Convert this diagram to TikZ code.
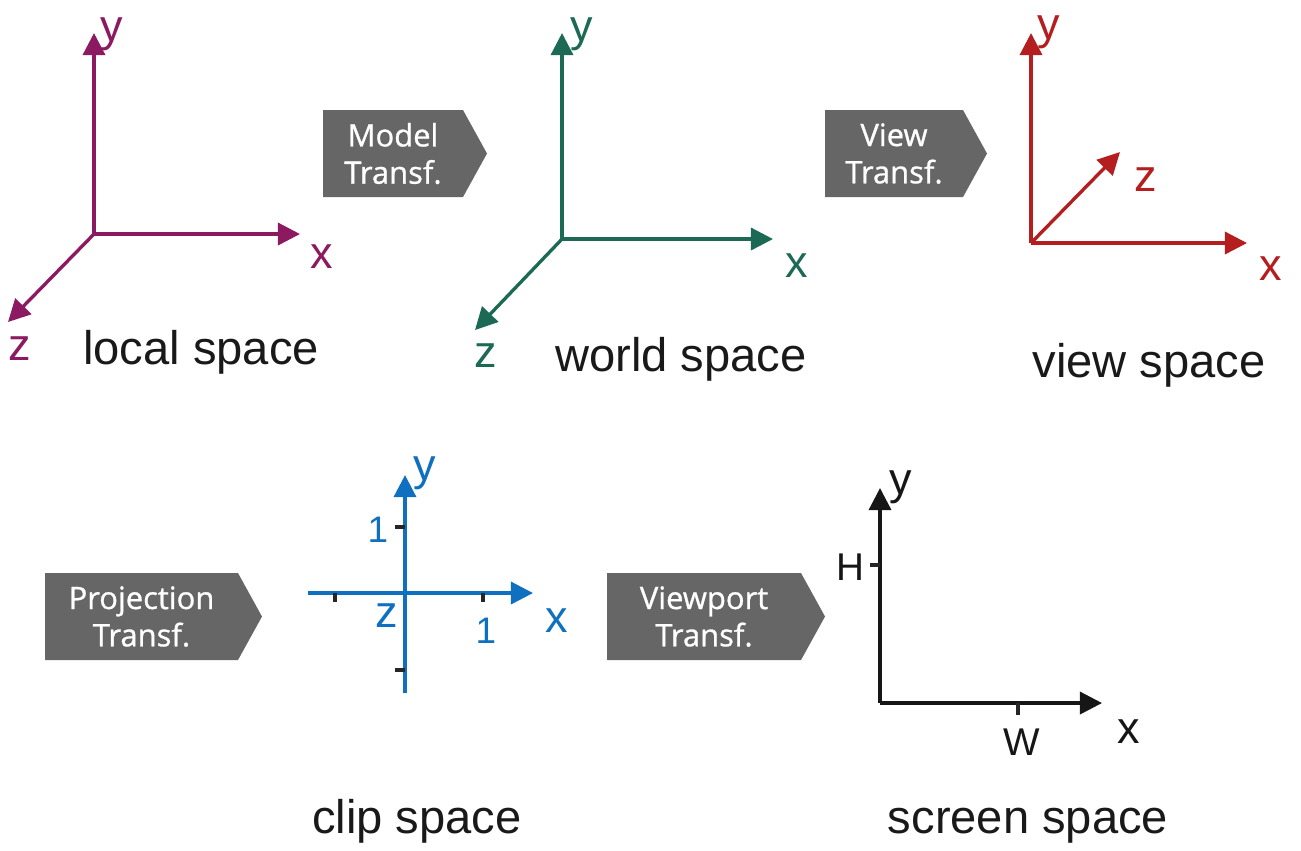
\documentclass[tikz,border=0pt]{standalone}
\usepackage{fontspec}
\setmainfont{Liberation Sans}
\newfontfamily\boxfont[FakeBold=0.9]{Open Sans}
\usetikzlibrary{arrows.meta, positioning}
\definecolor{localcol}{RGB}{140,26,96}
\definecolor{worldcol}{RGB}{28,106,86}
\definecolor{viewcol}{RGB}{180,30,30}
\definecolor{clipcol}{RGB}{16,112,192}
\definecolor{screencol}{RGB}{22,22,22}
\definecolor{boxgray}{RGB}{102,102,102}

\begin{document}
\begin{tikzpicture}[
  x=0.01cm, y=-0.01cm,
  axis/.style={line width=0.95pt, -{Triangle[length=6.3pt, width=6.3pt]}},
  tickmark/.style={line width=0.9pt, draw=black!85},
  lbl/.style={font=\fontsize{12.8}{15}\selectfont, inner sep=0pt, anchor=base},
  ticklbl/.style={font=\fontsize{10.5}{12}\selectfont, inner sep=0pt, anchor=base},
  title/.style={font=\fontsize{13.4}{16}\selectfont, text=black!90, inner sep=0pt, anchor=base},
  transf/.style={fill=boxgray},
  transflbl/.style={font=\boxfont\fontsize{8.8}{10.6}\selectfont, text=white, align=center, inner sep=0pt}
]
\useasboundingbox (0,0) rectangle (1301,850);

% Transformation boxes
\foreach \nm/\xl/\xr/\yt/\yb/\first in {
  model/323/463/110/197/Model,
  view/825/963/110/197/View,
  proj/45/238/573/660/Projection,
  viewport/607/801/573/660/Viewport
}{
  \fill[transf] (\xl,\yt) -- (\xr,\yt) -- (\xr+24,{(\yt+\yb)/2}) -- (\xr,\yb) -- (\xl,\yb) -- cycle;
  \node[transflbl] (\nm) at ({(\xl+\xr)/2},{(\yt+\yb)/2}) {\first\\Transf.};
}

% Local space
\coordinate (lo) at (94,234);
\coordinate (lo-y) at (94,33);
\coordinate (lo-x) at (300,234);
\coordinate (lo-z) at (8,322);
\draw[axis, localcol] (lo) -- (lo-y);
\draw[axis, localcol] (lo) -- (lo-x);
\draw[axis, localcol] (lo) -- (lo-z);
\node[lbl, text=localcol] (lo-ylbl) at (112,41) {y};
\node[lbl, text=localcol] (lo-xlbl) at (322,268) {x};
\node[lbl, text=localcol] (lo-zlbl) at (20,360) {z};
\node[title] (local) at (201,364) {local space};

% World space
\coordinate (wo) at (562,239);
\coordinate (wo-y) at (562,33);
\coordinate (wo-x) at (773,239);
\coordinate (wo-z) at (475,330);
\draw[axis, worldcol] (wo) -- (wo-y);
\draw[axis, worldcol] (wo) -- (wo-x);
\draw[axis, worldcol] (wo) -- (wo-z);
\node[lbl, text=worldcol] (wo-ylbl) at (582,41) {y};
\node[lbl, text=worldcol] (wo-xlbl) at (797,277) {x};
\node[lbl, text=worldcol] (wo-zlbl) at (486,367) {z};
\node[title] (world) at (681,371) {world space};

% View space
\coordinate (vi) at (1031,243);
\coordinate (vi-y) at (1031,33);
\coordinate (vi-x) at (1247,243);
\coordinate (vi-z) at (1120,152);
\draw[axis, viewcol] (vi) -- (vi-y);
\draw[axis, viewcol] (vi) -- (vi-x);
\draw[axis, viewcol] (vi) -- (vi-z);
\node[lbl, text=viewcol] (vi-ylbl) at (1049,39) {y};
\node[lbl, text=viewcol] (vi-zlbl) at (1146,191) {z};
\node[lbl, text=viewcol] (vi-xlbl) at (1271,280) {x};
\node[title] (viewsp) at (1149,377) {view space};

% Clip space
\coordinate (cl-b) at (405,693);
\coordinate (cl-y) at (405,475);
\coordinate (cl-l) at (308,593);
\coordinate (cl-x) at (533,593);
\draw[axis, clipcol] (cl-b) -- (cl-y);
\draw[axis, clipcol] (cl-l) -- (cl-x);
\foreach \tx in {335,483}
  \draw[tickmark] (\tx,593) -- (\tx,602);
\foreach \ty in {527,670}
  \draw[tickmark] (395,\ty) -- (405,\ty);
\node[lbl, text=clipcol] (cl-ylbl) at (425,480) {y};
\node[ticklbl, text=clipcol] (cl-one-y) at (378,542) {1};
\node[lbl, text=clipcol] (cl-zlbl) at (387,627) {z};
\node[ticklbl, text=clipcol] (cl-one-x) at (486,643) {1};
\node[lbl, text=clipcol] (cl-xlbl) at (557,632) {x};
\node[title] (clip) at (417,833) {clip space};

% Screen space
\coordinate (sc) at (880,703);
\coordinate (sc-y) at (880,488);
\coordinate (sc-x) at (1102,703);
\draw[axis, screencol] (sc) -- (sc-y);
\draw[axis, screencol] (sc) -- (sc-x);
\draw[tickmark] (870,565) -- (880,565);
\draw[tickmark] (1018,703) -- (1018,715);
\node[lbl, text=screencol] (sc-ylbl) at (901,494) {y};
\node[ticklbl, font=\fontsize{11}{13}\selectfont, text=screencol] (sc-h) at (850,580) {H};
\node[ticklbl, font=\fontsize{11}{13}\selectfont, text=screencol] (sc-w) at (1022,755) {W};
\node[lbl, text=screencol] (sc-xlbl) at (1129,743) {x};
\node[title] (screen) at (1028,833) {screen space};

\end{tikzpicture}
\end{document}
